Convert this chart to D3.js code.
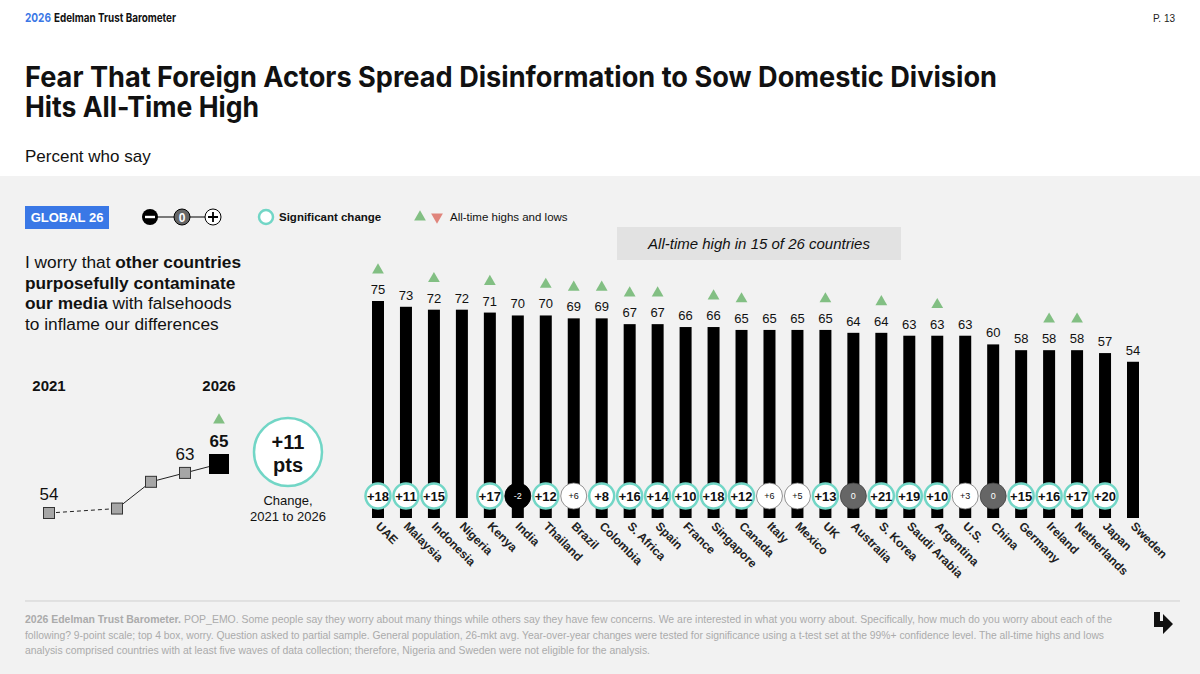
<!DOCTYPE html>
<html>
<head>
<meta charset="utf-8">
<script src="https://d3js.org/d3.v7.min.js"></script>
<style>
  body { margin: 0; background: #fff; }
  svg { display: block; font-family: "Liberation Sans", Arial, sans-serif; }
</style>
</head>
<body>
<div id="chart"></div>
<script>
// country bars
const countries = ['UAE', 'Malaysia', 'Indonesia', 'Nigeria', 'Kenya', 'India', 'Thailand', 'Brazil', 'Colombia',
  'S. Africa', 'Spain', 'France', 'Singapore', 'Canada', 'Italy', 'Mexico', 'UK', 'Australia', 'S. Korea',
  'Saudi Arabia', 'Argentina', 'U.S.', 'China', 'Germany', 'Ireland', 'Netherlands', 'Japan', 'Sweden'];
const values = [75, 73, 72, 72, 71, 70, 70, 69, 69, 67, 67, 66, 66, 65, 65, 65, 65, 64, 64, 63, 63, 63, 60, 58, 58, 58, 57, 54];
// change 2021 -> 2026, null = no comparison
const changes = [18, 11, 15, null, 17, -2, 12, 6, 8, 16, 14, 10, 18, 12, 6, 5, 13, 0, 21, 19, 10, 3, 0, 15, 16, 17, 20, null];
const significant = [1, 1, 1, 0, 1, 0, 1, 0, 1, 1, 1, 1, 1, 1, 0, 0, 1, 0, 1, 1, 1, 0, 0, 1, 1, 1, 1, 0];
const allTimeHigh = [1, 0, 1, 0, 1, 0, 1, 1, 1, 1, 1, 0, 1, 1, 0, 0, 1, 0, 1, 0, 1, 0, 0, 0, 1, 1, 0, 0];

// global trend
const trendYears = [2021, 2023, 2024, 2025, 2026];
const trendValues = [54, 55, 61, 63, 65];
const trendLabelled = [2021, 2025, 2026];

const W = 1200, H = 674;
const teal = '#72d6c6', green = '#82bf83', red = '#e0857c', blue = '#3a78e6';

const svg = d3.select('#chart').append('svg').attr('width', W).attr('height', H);

// backgrounds
svg.append('rect').attr('width', W).attr('height', H).attr('fill', '#fff');
svg.append('rect').attr('y', 176).attr('width', W).attr('height', H - 176).attr('fill', '#f2f2f2');

// header
svg.append('text').attr('x', 25).attr('y', 22).attr('font-size', 12).attr('font-weight', 'bold')
  .attr('font-family', 'Inter, sans-serif').attr('fill', blue)
  .attr('textLength', 26).attr('lengthAdjust', 'spacingAndGlyphs').text('2026');
svg.append('text').attr('x', 54).attr('y', 22).attr('font-size', 12).attr('font-weight', 'bold')
  .attr('font-family', 'Inter, sans-serif').attr('fill', '#111')
  .attr('textLength', 122).attr('lengthAdjust', 'spacingAndGlyphs').text('Edelman Trust Barometer');
svg.append('text').attr('x', 1175).attr('y', 22).attr('text-anchor', 'end').attr('font-size', 10)
  .attr('fill', '#222').text('P. 13');

// title
const titleLines = [['Fear That Foreign Actors Spread Disinformation to Sow Domestic Division', 972], ['Hits All-Time High', 234]];
titleLines.forEach((t, i) => {
  svg.append('text').attr('x', 25).attr('y', 87 + i * 30).attr('font-family', 'Inter, sans-serif')
    .attr('font-size', 28).attr('font-weight', 'bold').attr('fill', '#111')
    .attr('textLength', t[1]).attr('lengthAdjust', 'spacingAndGlyphs').text(t[0]);
});
svg.append('text').attr('x', 25).attr('y', 162).attr('font-size', 17).attr('fill', '#111').text('Percent who say');

// legend row
const ly = 217;
svg.append('rect').attr('x', 25).attr('y', ly - 11).attr('width', 84).attr('height', 23).attr('fill', blue);
svg.append('text').attr('x', 67).attr('y', ly + 5).attr('text-anchor', 'middle').attr('fill', '#fff')
  .attr('font-size', 13).attr('font-weight', 'bold').text('GLOBAL 26');

svg.append('line').attr('x1', 150).attr('x2', 214).attr('y1', ly).attr('y2', ly).attr('stroke', '#000');
svg.append('circle').attr('cx', 150).attr('cy', ly).attr('r', 8).attr('fill', '#000');
svg.append('rect').attr('x', 145).attr('y', ly - 1.2).attr('width', 10).attr('height', 2.4).attr('fill', '#fff');
svg.append('circle').attr('cx', 182).attr('cy', ly).attr('r', 8).attr('fill', '#666').attr('stroke', '#000');
svg.append('text').attr('x', 182).attr('y', ly + 4.5).attr('text-anchor', 'middle').attr('font-size', 12)
  .attr('font-weight', 'bold').attr('fill', '#fff').text('0');
svg.append('circle').attr('cx', 213).attr('cy', ly).attr('r', 8).attr('fill', '#fff').attr('stroke', '#000');
svg.append('path').attr('d', `M208,${ly}H218M213,${ly - 5}V${ly + 5}`).attr('stroke', '#000').attr('stroke-width', 1.8);

svg.append('circle').attr('cx', 266).attr('cy', ly).attr('r', 7).attr('fill', '#fff').attr('stroke', teal).attr('stroke-width', 2.5);
svg.append('text').attr('x', 279).attr('y', ly + 4).attr('font-size', 11.5).attr('font-weight', 'bold').attr('fill', '#111')
  .text('Significant change');

const tri = d3.symbol().type(d3.symbolTriangle).size(60);
svg.append('path').attr('d', tri).attr('transform', `translate(420,${ly})`).attr('fill', green);
svg.append('path').attr('d', tri).attr('transform', `translate(437,${ly}) rotate(180)`).attr('fill', red);
svg.append('text').attr('x', 450).attr('y', ly + 4).attr('font-size', 11.5).attr('fill', '#111').text('All-time highs and lows');

// callout box
svg.append('rect').attr('x', 617).attr('y', 227).attr('width', 284).attr('height', 33).attr('fill', '#e2e2e2');
svg.append('text').attr('x', 759).attr('y', 249).attr('text-anchor', 'middle').attr('font-size', 15)
  .attr('font-style', 'italic').attr('fill', '#111').text('All-time high in 15 of 26 countries');

// question text
const qLines = [
  [['I worry that ', false], ['other countries', true]],
  [['purposefully contaminate', true]],
  [['our media', true], [' with falsehoods', false]],
  [['to inflame our differences', false]]
];
qLines.forEach((line, i) => {
  const t = svg.append('text').attr('x', 25).attr('y', 268 + i * 20.5).attr('font-size', 17.3).attr('fill', '#111');
  line.forEach(p => t.append('tspan').attr('font-weight', p[1] ? 'bold' : 'normal').text(p[0]));
});

// trend chart
const tx = d3.scaleLinear().domain([2021, 2026]).range([49, 219]);
const ty = d3.scaleLinear().domain([54, 65]).range([513, 464]);
const trend = trendYears.map((yr, i) => ({ yr, v: trendValues[i] }));

svg.append('text').attr('x', tx(2021)).attr('y', 391).attr('text-anchor', 'middle').attr('font-size', 15)
  .attr('font-weight', 'bold').attr('fill', '#111').text('2021');
svg.append('text').attr('x', tx(2026)).attr('y', 391).attr('text-anchor', 'middle').attr('font-size', 15)
  .attr('font-weight', 'bold').attr('fill', '#111').text('2026');

const tline = d3.line().x(d => tx(d.yr)).y(d => ty(d.v));
svg.append('path').attr('d', tline(trend.slice(0, 2))).attr('fill', 'none').attr('stroke', '#222')
  .attr('stroke-dasharray', '4,3');
svg.append('path').attr('d', tline(trend.slice(1))).attr('fill', 'none').attr('stroke', '#222');

svg.selectAll('rect.tpt').data(trend.slice(0, -1)).join('rect').attr('class', 'tpt')
  .attr('x', d => tx(d.yr) - 5.5).attr('y', d => ty(d.v) - 5.5).attr('width', 11).attr('height', 11)
  .attr('fill', '#a6a6a6').attr('stroke', '#333');
const last = trend[trend.length - 1];
svg.append('rect').attr('x', tx(last.yr) - 10).attr('y', ty(last.v) - 10).attr('width', 20).attr('height', 20).attr('fill', '#000');

svg.selectAll('text.tval').data(trend.filter(d => trendLabelled.includes(d.yr))).join('text').attr('class', 'tval')
  .attr('x', d => tx(d.yr)).attr('y', d => ty(d.v) - (d.yr === 2026 ? 17 : 13))
  .attr('text-anchor', 'middle').attr('font-size', 17).attr('fill', '#111')
  .attr('font-weight', d => d.yr === 2026 ? 'bold' : 'normal').text(d => d.v);
svg.append('path').attr('d', tri).attr('transform', `translate(${tx(2026)},${ty(65) - 44})`).attr('fill', green);

// change bubble
svg.append('circle').attr('cx', 288).attr('cy', 452).attr('r', 34).attr('fill', '#fff').attr('stroke', teal).attr('stroke-width', 2.5);
svg.append('text').attr('x', 288).attr('y', 449).attr('text-anchor', 'middle').attr('font-size', 20)
  .attr('font-weight', 'bold').attr('fill', '#111').text('+' + (trendValues[trendValues.length - 1] - trendValues[0]));
svg.append('text').attr('x', 288).attr('y', 472).attr('text-anchor', 'middle').attr('font-size', 20)
  .attr('font-weight', 'bold').attr('fill', '#111').text('pts');
svg.append('text').attr('x', 288).attr('y', 505).attr('text-anchor', 'middle').attr('font-size', 13).attr('fill', '#111').text('Change,');
svg.append('text').attr('x', 288).attr('y', 521).attr('text-anchor', 'middle').attr('font-size', 13).attr('fill', '#111').text('2021 to 2026');

// bars
const x = d3.scalePoint().domain(countries).range([378, 1133]);
const y = d3.scaleLinear().domain([0, 75]).range([518, 301]);
const rows = countries.map((c, i) => ({ c, v: values[i], ch: changes[i], sig: significant[i], ath: allTimeHigh[i] }));

const g = svg.append('g');
g.selectAll('rect.bar').data(rows).join('rect').attr('class', 'bar')
  .attr('x', d => x(d.c) - 6).attr('y', d => y(d.v)).attr('width', 12).attr('height', d => y(0) - y(d.v)).attr('fill', '#000');

g.selectAll('text.val').data(rows).join('text').attr('class', 'val')
  .attr('x', d => x(d.c)).attr('y', d => y(d.v) - 7).attr('text-anchor', 'middle').attr('font-size', 13)
  .attr('fill', '#111').text(d => d.v);

g.selectAll('path.ath').data(rows.filter(d => d.ath)).join('path').attr('class', 'ath')
  .attr('d', tri).attr('transform', d => `translate(${x(d.c)},${y(d.v) - 31})`).attr('fill', green);

// change circles
const cy = 496;
const ch = rows.filter(d => d.ch !== null);
g.selectAll('circle.chg').data(ch).join('circle').attr('class', 'chg')
  .attr('cx', d => x(d.c)).attr('cy', cy).attr('r', d => d.sig ? 12.5 : 13)
  .attr('fill', d => d.sig ? '#fff' : d.ch < 0 ? '#000' : d.ch === 0 ? '#666' : '#fff')
  .attr('stroke', d => d.sig ? teal : d.ch < 0 ? '#000' : d.ch === 0 ? '#444' : '#777')
  .attr('stroke-width', d => d.sig ? 2.5 : 0.8);
g.selectAll('text.chg').data(ch).join('text').attr('class', 'chg')
  .attr('x', d => x(d.c)).attr('y', d => d.sig ? cy + 4.5 : cy + 3)
  .attr('text-anchor', 'middle').attr('font-size', d => d.sig ? 13 : 9)
  .attr('font-weight', d => d.sig ? 'bold' : 'normal')
  .attr('fill', d => (!d.sig && d.ch <= 0) ? '#fff' : '#111')
  .text(d => d.ch > 0 ? '+' + d.ch : d.ch);

// country labels
g.selectAll('text.cty').data(rows).join('text').attr('class', 'cty')
  .attr('transform', d => `translate(${x(d.c) - 3},${527}) rotate(45)`)
  .attr('font-size', 12).attr('font-weight', 'bold').attr('fill', '#222').text(d => d.c);

// footer
svg.append('line').attr('x1', 25).attr('x2', 1180).attr('y1', 601).attr('y2', 601).attr('stroke', '#cfcfcf');
const footFill = '#ababab';
svg.append('text').attr('x', 25).attr('y', 623).attr('font-size', 11).attr('font-weight', 'bold').attr('fill', footFill)
  .attr('textLength', 156).attr('lengthAdjust', 'spacingAndGlyphs').text('2026 Edelman Trust Barometer.');
const footLines = [
  [184, 1112, 'POP_EMO. Some people say they worry about many things while others say they have few concerns. We are interested in what you worry about. Specifically, how much do you worry about each of the'],
  [25, 1104, 'following? 9-point scale; top 4 box, worry. Question asked to partial sample. General population, 26-mkt avg. Year-over-year changes were tested for significance using a t-test set at the 99%+ confidence level. The all-time highs and lows'],
  [25, 650, 'analysis comprised countries with at least five waves of data collection; therefore, Nigeria and Sweden were not eligible for the analysis.']
];
footLines.forEach((l, i) => {
  svg.append('text').attr('x', l[0]).attr('y', 623 + i * 15.5).attr('font-size', 11).attr('fill', footFill)
    .attr('textLength', l[1] - l[0]).attr('lengthAdjust', 'spacingAndGlyphs').text(l[2]);
});
svg.append('path').attr('d', 'M1154,612 L1160,612 L1160,621 L1163,621 L1163,614 L1173,624 L1163,634 L1163,627 L1154,627 Z')
  .attr('fill', '#111');
</script>
</body>
</html>
